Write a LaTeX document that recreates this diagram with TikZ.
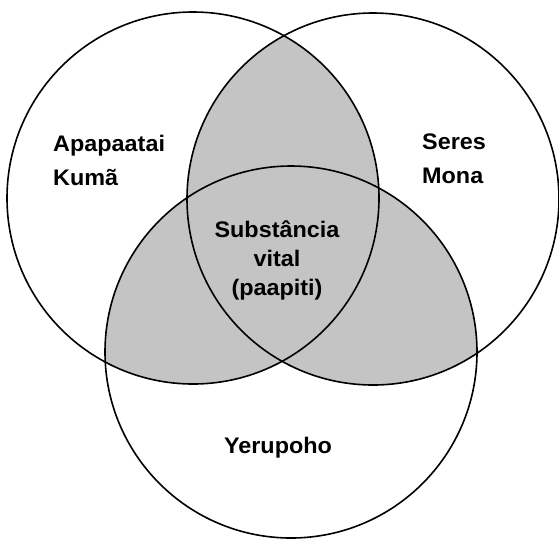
\documentclass[tikz,border=0pt]{standalone}
\usepackage{fontspec}
\setmainfont{Liberation Sans}[FakeStretch=1.04]
\begin{document}
\begin{tikzpicture}[x=1pt,y=-1pt,
  ring/.style={line width=1.6pt},
  overlap/.style={fill=black!23},
  lbl/.style={font=\fontsize{22.5}{33.5}\selectfont\bfseries, inner sep=0pt},
  lblc/.style={font=\fontsize{22.5}{29}\selectfont\bfseries, inner sep=0pt}]
\useasboundingbox (0,0) rectangle (559,539);
\fill[white] (0,0) rectangle (559,539);
\coordinate (L) at (193,198);
\coordinate (R) at (373,199);
\coordinate (B) at (291,352);
\def\rad{186pt}
\begin{scope}
  \clip (L) circle[radius=\rad];
  \fill[overlap] (R) circle[radius=\rad];
  \fill[overlap] (B) circle[radius=\rad];
\end{scope}
\begin{scope}
  \clip (R) circle[radius=\rad];
  \fill[overlap] (B) circle[radius=\rad];
\end{scope}
\draw[ring] (L) circle[radius=\rad];
\draw[ring] (R) circle[radius=\rad];
\draw[ring] (B) circle[radius=\rad];
\node[lbl, anchor=base west, align=left] (apa) at (53,185) {Apapaatai\\Kumã};
\node[lbl, anchor=base west, align=left] (ser) at (422,183) {Seres\\Mona};
\node[lblc, anchor=base, align=center] (sub) at (277,295) {Substância\\vital\\(paapiti)};
\node[lbl, anchor=base] (yer) at (278,453) {Yerupoho};
\end{tikzpicture}
\end{document}
